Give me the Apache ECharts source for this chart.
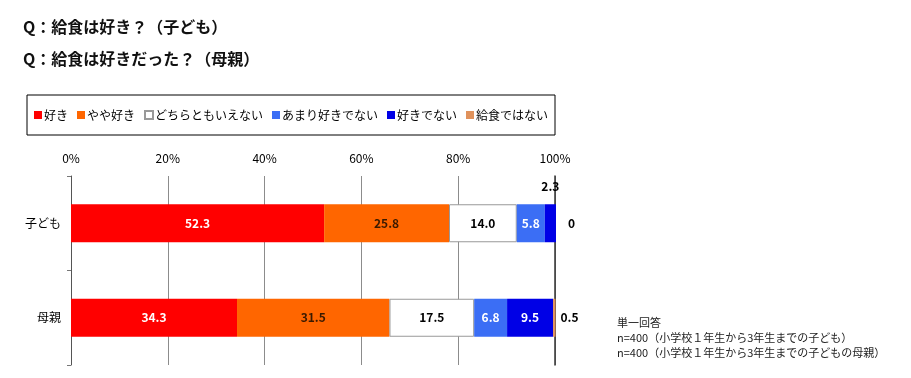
<!DOCTYPE html>
<html>
<head>
<meta charset="utf-8">
<script src="https://cdn.jsdelivr.net/npm/echarts@6/dist/echarts.min.js"></script>
<style>
html, body { margin: 0; padding: 0; background: #fff; }
#chart { width: 911px; height: 378px; }
</style>
</head>
<body>
<div id="chart"></div>
<script>
var categories = ['子ども', '母親'];
var seriesNames = ['好き', 'やや好き', 'どちらともいえない', 'あまり好きでない', '好きでない', '給食ではない'];
var childValues = [52.3, 25.8, 14.0, 5.8, 2.3, 0];
var motherValues = [34.3, 31.5, 17.5, 6.8, 9.5, 0.5];
var xTicks = [0, 20, 40, 60, 80, 100];

var colors = ['#ff0000', '#ff6600', '#ffffff', '#3b6ef5', '#0000e6', '#e0925c'];
var labelColors = ['#fff', '#3a1a00', '#000', '#fff', '#fff', '#000'];
var font = '"Noto Sans CJK JP", sans-serif';

// 小さい値は棒の外にラベルを出す
function labelFor(si, ci, v) {
    var base = {
        show: true,
        fontFamily: font,
        fontSize: 12,
        fontWeight: 'bold',
        color: labelColors[si],
        formatter: function (p) {
            return si === 5 ? String(p.value) : p.value.toFixed(1);
        }
    };
    if (si === 4 && ci === 0) {
        base.position = 'top';
        base.distance = 12;
        base.color = '#000';
    } else if (si === 5) {
        base.position = 'right';
        base.distance = ci === 0 ? 12 : 5;
        base.color = '#000';
    } else {
        base.position = 'inside';
    }
    return base;
}

var series = seriesNames.map(function (name, si) {
    var vals = [childValues[si], motherValues[si]];
    return {
        name: name,
        type: 'bar',
        stack: 'total',
        barWidth: 38,
        clip: false,
        itemStyle: {
            color: colors[si],
            borderColor: si === 2 ? '#999' : colors[si],
            borderWidth: si === 2 ? 1 : 0
        },
        data: vals.map(function (v, ci) {
            return { value: v, label: labelFor(si, ci, v) };
        })
    };
});

var chart = echarts.init(document.getElementById('chart'));
chart.setOption({
    backgroundColor: '#fff',
    animation: false,
    textStyle: { fontFamily: font },
    graphic: [
        { type: 'text', left: 23, top: 19, style: { text: 'Q：給食は好き？（子ども）', font: 'bold 16px ' + font, fill: '#111', letterSpacing: 1.2 } },
        { type: 'text', left: 23, top: 51, style: { text: 'Q：給食は好きだった？（母親）', font: 'bold 16px ' + font, fill: '#111', letterSpacing: 1.2 } },
        { type: 'text', left: 617, top: 315, style: { text: '単一回答\nn=400（小学校１年生から3年生までの子ども）\nn=400（小学校１年生から3年生までの子どもの母親）', font: '11px ' + font, fill: '#222', lineHeight: 15 } }
    ],
    legend: {
        left: 27,
        top: 95,
        padding: [14, 7, 14, 7],
        borderColor: '#000',
        borderWidth: 1,
        icon: 'rect',
        itemWidth: 8,
        itemHeight: 8,
        itemGap: 9,
        textStyle: { fontSize: 12, color: '#000', fontFamily: font, padding: [0, 0, 0, -3] },
        data: seriesNames
    },
    grid: { left: 71, right: 356, top: 176, bottom: 13 },
    xAxis: {
        type: 'value',
        position: 'top',
        min: 0,
        max: 100,
        interval: 20,
        axisLine: { show: false },
        axisTick: { show: false },
        axisLabel: {
            formatter: function (v) { return xTicks.indexOf(v) >= 0 ? v + '%' : ''; },
            color: '#000',
            fontSize: 12,
            margin: 12
        },
        splitLine: { show: true, lineStyle: { color: '#8c8c8c', width: 1 } }
    },
    yAxis: [{
        type: 'category',
        inverse: true,
        data: categories,
        axisLine: { show: true, lineStyle: { color: '#555', width: 1 } },
        axisTick: { show: true, length: 4, lineStyle: { color: '#777' } },
        axisLabel: { color: '#000', fontSize: 12, margin: 10 }
    }, {
        type: 'category',
        position: 'right',
        inverse: true,
        data: categories,
        axisLine: { show: true, lineStyle: { color: '#333', width: 1.5 } },
        axisTick: { show: false },
        axisLabel: { show: false }
    }],
    series: series
});
</script>
</body>
</html>
